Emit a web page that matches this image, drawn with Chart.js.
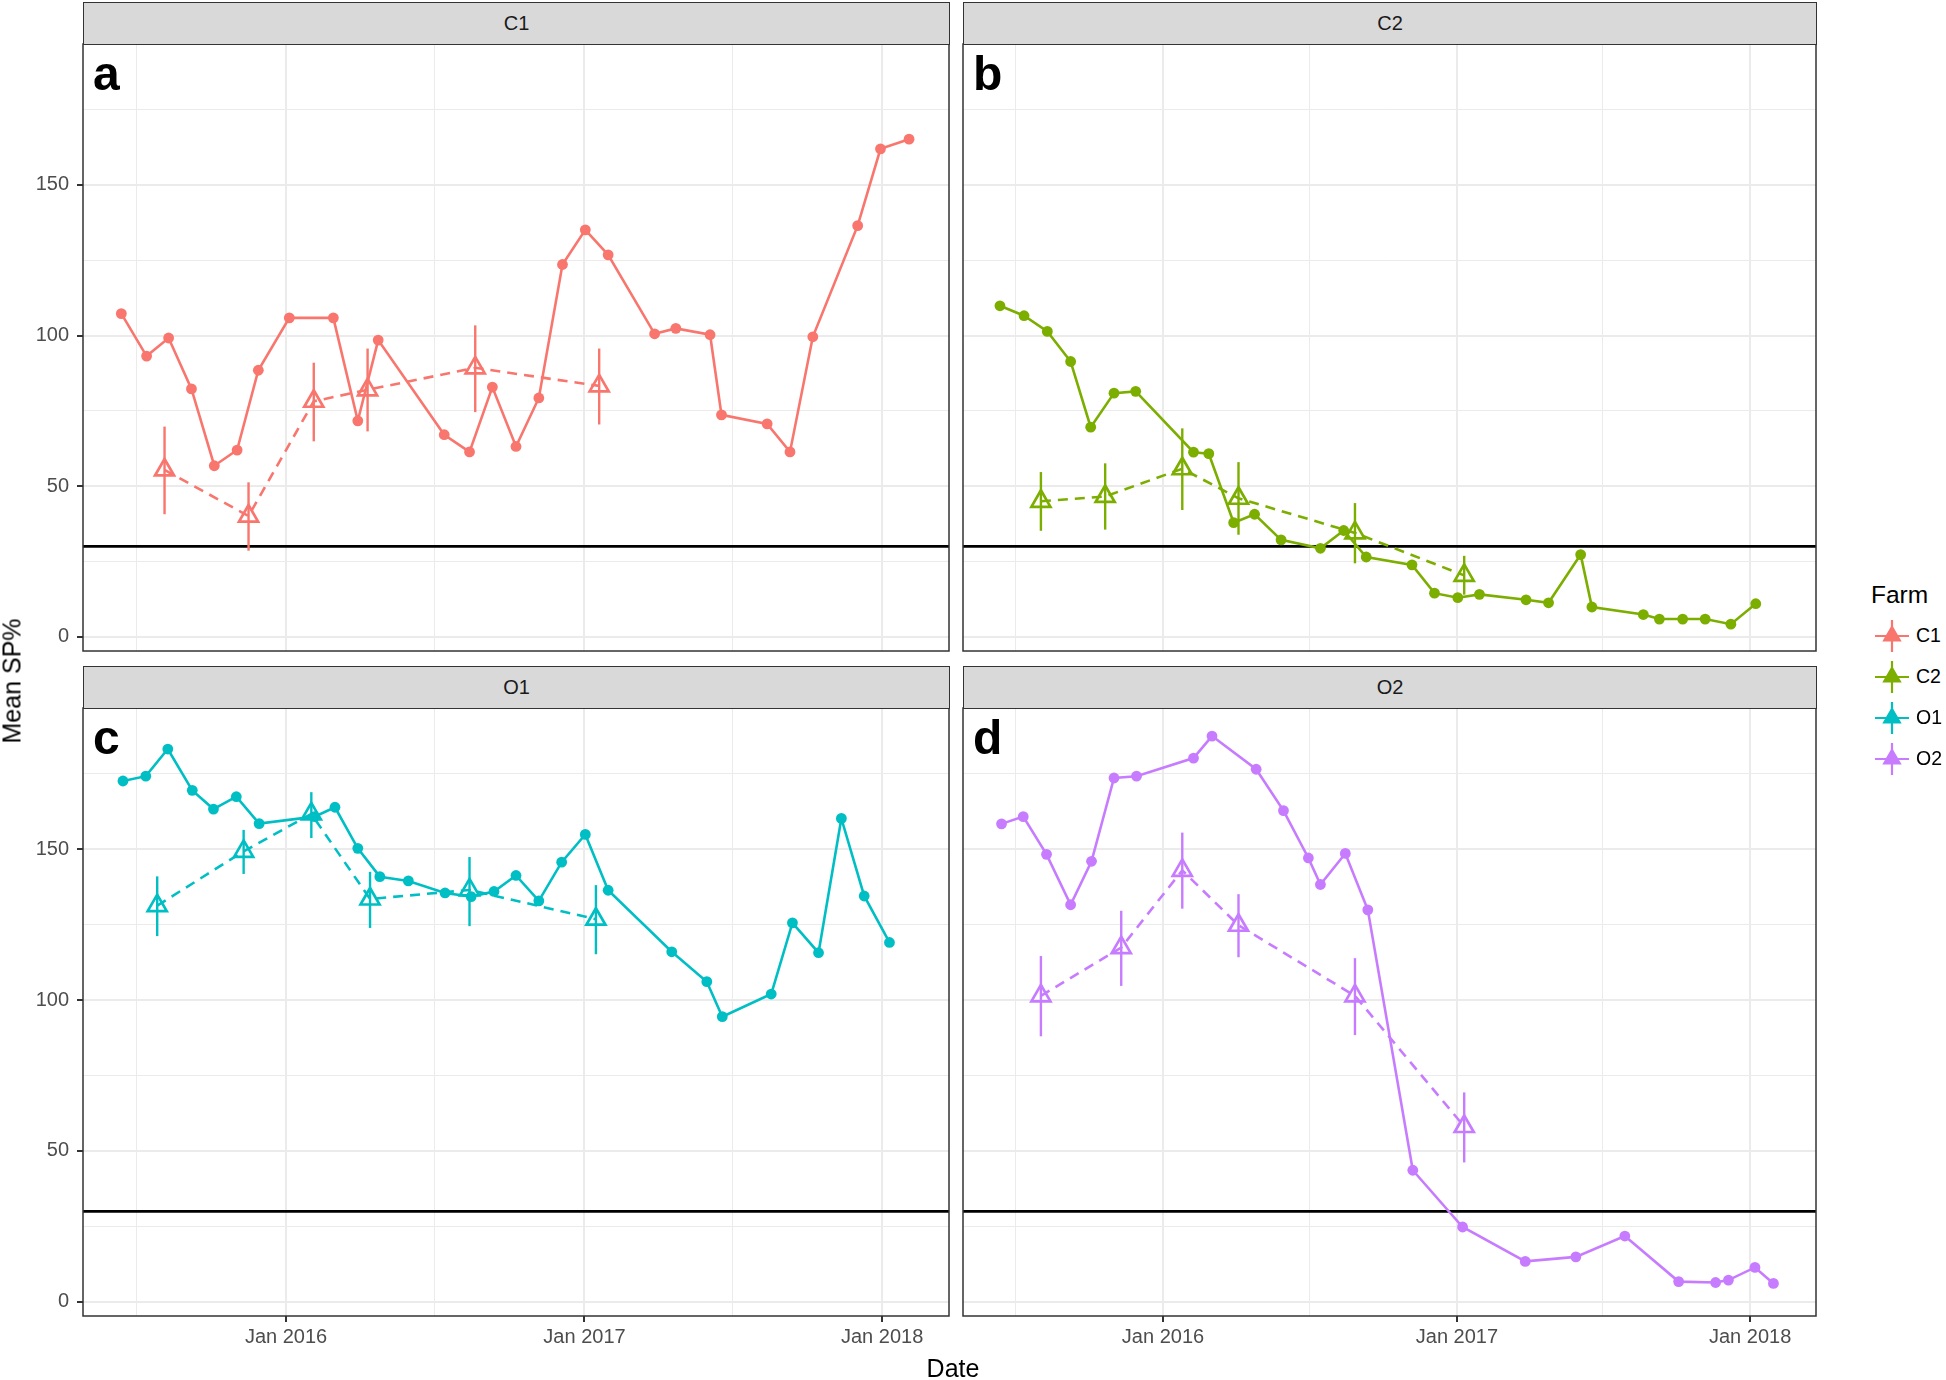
<!DOCTYPE html>
<html>
<head>
<meta charset="utf-8">
<script src="https://cdn.jsdelivr.net/npm/chart.js@4"></script>
<style>
  body { margin: 0; background: #fff; width: 1946px; height: 1380px; position: relative; overflow: hidden;
         font-family: "Liberation Sans", Arial, sans-serif; }
  canvas { position: absolute; }
  .strip { position: absolute; background: #d9d9d9; border: 1.5px solid #333; box-sizing: border-box;
           color: #1a1a1a; font-size: 20px; display: flex; align-items: center; justify-content: center; }
  .letter { position: absolute; font-weight: bold; font-size: 48px; line-height: 1; color: #000; }
  .txt { position: absolute; color: #000; white-space: nowrap; line-height: 1; }
</style>
</head>
<body>
<script>
// ---- data ----
const farms = ["C1", "C2", "O1", "O2"];
const panelLetters = ["a", "b", "c", "d"];

const xMajor = ["2016-01-01", "2017-01-01", "2018-01-01"];
const xMajorLabels = ["Jan 2016", "Jan 2017", "Jan 2018"];
const xMinor = ["2015-07-01", "2016-07-01", "2017-07-01"];
const yMajor = [0, 50, 100, 150];
const yMinor = [25, 75, 125, 175];
const threshold = 30;

// solid line (monthly mean SP%)
const c1Dates = ["2015-06-13","2015-07-14","2015-08-10","2015-09-07","2015-10-05","2015-11-02","2015-11-28","2016-01-05","2016-02-28","2016-03-29","2016-04-23","2016-07-13","2016-08-13","2016-09-10","2016-10-09","2016-11-06","2016-12-05","2017-01-02","2017-01-30","2017-03-28","2017-04-23","2017-06-04","2017-06-18","2017-08-13","2017-09-10","2017-10-08","2017-12-02","2017-12-30","2018-02-03"];
const c1Values = [107.3,93.2,99.2,82.3,56.8,62.0,88.5,105.9,105.9,71.7,98.5,67.1,61.4,82.9,63.2,79.3,123.6,135.1,126.8,100.6,102.4,100.3,73.7,70.7,61.4,99.6,136.5,162.0,165.2];

const c2Dates = ["2015-06-12","2015-07-12","2015-08-10","2015-09-08","2015-10-03","2015-11-01","2015-11-28","2016-02-08","2016-02-27","2016-03-29","2016-04-24","2016-05-27","2016-07-15","2016-08-13","2016-09-10","2016-11-06","2016-12-04","2017-01-02","2017-01-29","2017-03-28","2017-04-25","2017-06-04","2017-06-18","2017-08-21","2017-09-10","2017-10-09","2017-11-06","2017-12-08","2018-01-08"];
const c2Values = [109.9,106.6,101.4,91.4,69.6,80.9,81.5,61.3,60.8,37.9,40.7,32.2,29.4,35.3,26.5,23.9,14.5,13.0,14.1,12.3,11.3,27.3,9.9,7.4,5.9,5.9,5.9,4.2,11.0];

const o1Dates = ["2015-06-15","2015-07-13","2015-08-09","2015-09-08","2015-10-04","2015-11-01","2015-11-29","2016-02-05","2016-03-01","2016-03-29","2016-04-25","2016-05-30","2016-07-14","2016-08-15","2016-09-12","2016-10-09","2016-11-06","2016-12-04","2017-01-02","2017-01-30","2017-04-18","2017-05-31","2017-06-19","2017-08-18","2017-09-13","2017-10-15","2017-11-12","2017-12-10","2018-01-10"];
const o1Values = [172.6,174.2,183.2,169.5,163.3,167.4,158.5,160.8,163.9,150.3,140.9,139.5,135.5,134.3,136.0,141.3,132.9,145.7,154.9,136.4,116.0,106.1,94.5,102.0,125.6,115.7,160.2,134.5,119.1];

const o2Dates = ["2015-06-14","2015-07-11","2015-08-09","2015-09-08","2015-10-04","2015-11-01","2015-11-29","2016-02-08","2016-03-02","2016-04-26","2016-05-30","2016-06-30","2016-07-15","2016-08-15","2016-09-12","2016-11-07","2017-01-08","2017-03-27","2017-05-29","2017-07-29","2017-10-04","2017-11-19","2017-12-05","2018-01-07","2018-01-30"];
const o2Values = [158.4,160.8,148.3,131.6,146.0,173.6,174.2,180.2,187.5,176.5,162.8,147.1,138.3,148.6,129.9,43.6,24.8,13.4,14.9,21.8,6.7,6.4,7.2,11.4,6.1];

// dashed line (survey means with error bars)
const c1SurveyDates = ["2015-08-05","2015-11-16","2016-02-04","2016-04-10","2016-08-20","2017-01-19"];
const c1SurveyMean = [55.4,40.1,78.2,82.0,89.3,83.3];
const c1SurveyLow  = [40.7,28.6,64.9,68.2,74.6,70.5];
const c1SurveyHigh = [69.8,51.3,91.0,95.7,103.4,95.7];

const c2SurveyDates = ["2015-08-02","2015-10-21","2016-01-25","2016-04-04","2016-08-27","2017-01-10"];
const c2SurveyMean = [45.0,46.6,55.8,46.0,34.5,20.4];
const c2SurveyLow  = [35.2,35.6,42.1,33.9,24.4,14.0];
const c2SurveyHigh = [54.7,57.6,69.2,58.0,44.4,26.9];

const o1SurveyDates = ["2015-07-27","2015-11-10","2016-02-01","2016-04-13","2016-08-13","2017-01-15"];
const o1SurveyMean = [131.3,149.3,161.7,133.5,136.5,126.8];
const o1SurveyLow  = [121.2,141.8,153.7,123.9,124.5,115.2];
const o1SurveyHigh = [141.0,156.4,168.9,142.5,147.4,138.1];

const o2SurveyDates = ["2015-08-02","2015-11-10","2016-01-25","2016-04-04","2016-08-27","2017-01-10"];
const o2SurveyMean = [101.4,117.4,143.0,124.8,101.4,58.1];
const o2SurveyLow  = [88.0,104.7,130.3,114.2,88.4,46.2];
const o2SurveyHigh = [114.6,129.6,155.5,135.1,113.9,69.4];

// ---- styling / layout ----
const farmColors = ["#F8766D", "#7CAE00", "#00BFC4", "#C77CFF"];
const X_MIN = Date.parse("2015-04-27"), X_MAX = Date.parse("2018-03-24");
const Y_MIN = -4.7, Y_MAX = 196.8;
const FONT = '"Liberation Sans", Arial, sans-serif';

const panels = [
  { dates: c1Dates, values: c1Values, sDates: c1SurveyDates, sMean: c1SurveyMean, sLow: c1SurveyLow, sHigh: c1SurveyHigh,
    plotLeft: 83, plotRight: 949, plotTop: 44, plotBottom: 651, showX: false, showY: true },
  { dates: c2Dates, values: c2Values, sDates: c2SurveyDates, sMean: c2SurveyMean, sLow: c2SurveyLow, sHigh: c2SurveyHigh,
    plotLeft: 963, plotRight: 1816, plotTop: 44, plotBottom: 651, showX: false, showY: false },
  { dates: o1Dates, values: o1Values, sDates: o1SurveyDates, sMean: o1SurveyMean, sLow: o1SurveyLow, sHigh: o1SurveyHigh,
    plotLeft: 83, plotRight: 949, plotTop: 708, plotBottom: 1316, showX: true, showY: true },
  { dates: o2Dates, values: o2Values, sDates: o2SurveyDates, sMean: o2SurveyMean, sLow: o2SurveyLow, sHigh: o2SurveyHigh,
    plotLeft: 963, plotRight: 1816, plotTop: 708, plotBottom: 1316, showX: true, showY: false }
];

const xMajorMs = xMajor.map(d => Date.parse(d));
const xMinorMs = xMinor.map(d => Date.parse(d));
const xTickVals = xMinorMs.concat(xMajorMs).sort((a, b) => a - b);
const yTickVals = yMajor.concat(yMinor).sort((a, b) => a - b);

function toPoints(dates, vals) {
  return dates.map((d, i) => ({ x: Date.parse(d), y: vals[i] }));
}

function addDiv(cls, text, css) {
  const el = document.createElement("div");
  el.className = cls;
  el.textContent = text;
  Object.assign(el.style, css);
  document.body.appendChild(el);
  return el;
}

function noPadding(s) {
  s.paddingTop = 0; s.paddingBottom = 0; s.paddingLeft = 0; s.paddingRight = 0;
}

// threshold line, error bars and panel border
const panelPlugin = {
  id: "panelExtras",
  beforeDatasetsDraw(chart) {
    const { ctx, chartArea, scales } = chart;
    const y = scales.y.getPixelForValue(threshold);
    ctx.save();
    ctx.strokeStyle = "#000";
    ctx.lineWidth = 2.8;
    ctx.beginPath();
    ctx.moveTo(chartArea.left, y);
    ctx.lineTo(chartArea.right, y);
    ctx.stroke();
    ctx.restore();
  },
  afterDatasetsDraw(chart) {
    const { ctx, chartArea, scales } = chart;
    chart.data.datasets.forEach((ds, di) => {
      if (!ds.errLow) return;
      const meta = chart.getDatasetMeta(di);
      ctx.save();
      ctx.strokeStyle = ds.borderColor;
      ctx.lineWidth = 2.4;
      meta.data.forEach((pt, i) => {
        ctx.beginPath();
        ctx.moveTo(pt.x, scales.y.getPixelForValue(ds.errLow[i]));
        ctx.lineTo(pt.x, scales.y.getPixelForValue(ds.errHigh[i]));
        ctx.stroke();
      });
      ctx.restore();
    });
    ctx.save();
    ctx.strokeStyle = "#333";
    ctx.lineWidth = 1.5;
    ctx.strokeRect(chartArea.left, chartArea.top, chartArea.right - chartArea.left, chartArea.bottom - chartArea.top);
    ctx.restore();
  }
};

panels.forEach((p, k) => {
  const color = farmColors[k];
  const axW = p.showY ? 83 : 3;
  const axH = p.showX ? 50 : 2;
  const left = p.plotLeft - axW;
  const top = p.plotTop - 2;
  const width = p.plotRight + 3 - left;
  const height = p.plotBottom - top + axH;

  const canvas = document.createElement("canvas");
  canvas.width = width; canvas.height = height;
  canvas.style.left = left + "px"; canvas.style.top = top + "px";
  canvas.style.width = width + "px"; canvas.style.height = height + "px";
  document.body.appendChild(canvas);

  // facet strip and panel letter
  addDiv("strip", farms[k], { left: p.plotLeft + "px", top: (p.plotTop - 42) + "px",
    width: (p.plotRight - p.plotLeft + 1) + "px", height: "43px" });
  addDiv("letter", panelLetters[k], { left: (p.plotLeft + 10) + "px", top: (p.plotTop + 6) + "px" });

  new Chart(canvas, {
    type: "line",
    data: {
      datasets: [
        {
          data: toPoints(p.dates, p.values),
          borderColor: color, backgroundColor: color,
          borderWidth: 2.6, pointRadius: 5.4, pointBorderWidth: 0, tension: 0
        },
        {
          data: toPoints(p.sDates, p.sMean),
          errLow: p.sLow, errHigh: p.sHigh,
          borderColor: color, backgroundColor: "rgba(0,0,0,0)",
          borderWidth: 2.6, borderDash: [10, 7], tension: 0,
          pointStyle: "triangle", pointRadius: 11, pointBorderWidth: 2.7,
          pointBorderColor: color, pointBackgroundColor: "rgba(0,0,0,0)"
        }
      ]
    },
    options: {
      responsive: false, animation: false, events: [],
      layout: { autoPadding: false, padding: { top: 2, right: 3, bottom: 0, left: 0 } },
      plugins: { legend: { display: false }, tooltip: { enabled: false } },
      scales: {
        x: {
          type: "linear", min: X_MIN, max: X_MAX,
          afterBuildTicks: s => { s.ticks = xTickVals.map(v => ({ value: v })); },
          afterFit: s => { s.height = axH; noPadding(s); },
          border: { display: false },
          grid: {
            color: "#ebebeb",
            lineWidth: c => xMajorMs.includes(c.tick && c.tick.value) ? 2 : 1,
            drawTicks: p.showX, tickLength: 6, tickWidth: 2,
            tickColor: c => xMajorMs.includes(c.tick && c.tick.value) ? "#333" : "rgba(0,0,0,0)"
          },
          ticks: {
            display: p.showX, autoSkip: false, maxRotation: 0, padding: 3,
            color: "#4d4d4d", font: { family: FONT, size: 20 },
            callback: v => { const i = xMajorMs.indexOf(v); return i >= 0 ? xMajorLabels[i] : ""; }
          }
        },
        y: {
          type: "linear", min: Y_MIN, max: Y_MAX,
          afterBuildTicks: s => { s.ticks = yTickVals.map(v => ({ value: v })); },
          afterFit: s => { s.width = axW; noPadding(s); },
          border: { display: false },
          grid: {
            color: "#ebebeb",
            lineWidth: c => yMajor.includes(c.tick && c.tick.value) ? 2 : 1,
            drawTicks: p.showY, tickLength: 6, tickWidth: 2,
            tickColor: c => yMajor.includes(c.tick && c.tick.value) ? "#333" : "rgba(0,0,0,0)"
          },
          ticks: {
            display: p.showY, autoSkip: false, padding: 8,
            color: "#4d4d4d", font: { family: FONT, size: 20 },
            callback: v => yMajor.includes(v) ? String(v) : ""
          }
        }
      }
    },
    plugins: [panelPlugin]
  });
});

// axis titles
addDiv("txt", "Mean SP%", { left: "12px", top: "681px", fontSize: "25px",
  transform: "translate(-50%, -50%) rotate(-90deg)" });
addDiv("txt", "Date", { left: "953px", top: "1368px", fontSize: "25px", transform: "translate(-50%, -50%)" });

// legend
addDiv("txt", "Farm", { left: "1871px", top: "595px", fontSize: "24.5px", transform: "translateY(-50%)" });
const legendY = [636, 677, 718, 759];
farms.forEach((f, k) => {
  const key = document.createElement("canvas");
  key.width = 36; key.height = 36;
  key.style.left = (1892 - 18) + "px"; key.style.top = (legendY[k] - 18) + "px";
  document.body.appendChild(key);
  const c = key.getContext("2d");
  c.strokeStyle = farmColors[k]; c.fillStyle = farmColors[k]; c.lineWidth = 2.2;
  c.beginPath(); c.moveTo(1, 18); c.lineTo(35, 18); c.stroke();
  c.beginPath(); c.moveTo(18, 2); c.lineTo(18, 34); c.stroke();
  c.beginPath(); c.moveTo(18, 9); c.lineTo(25.8, 22.5); c.lineTo(10.2, 22.5); c.closePath();
  c.fill(); c.stroke();
  addDiv("txt", f, { left: "1916px", top: legendY[k] + "px", fontSize: "19.5px", transform: "translateY(-50%)" });
});
</script>
</body>
</html>
